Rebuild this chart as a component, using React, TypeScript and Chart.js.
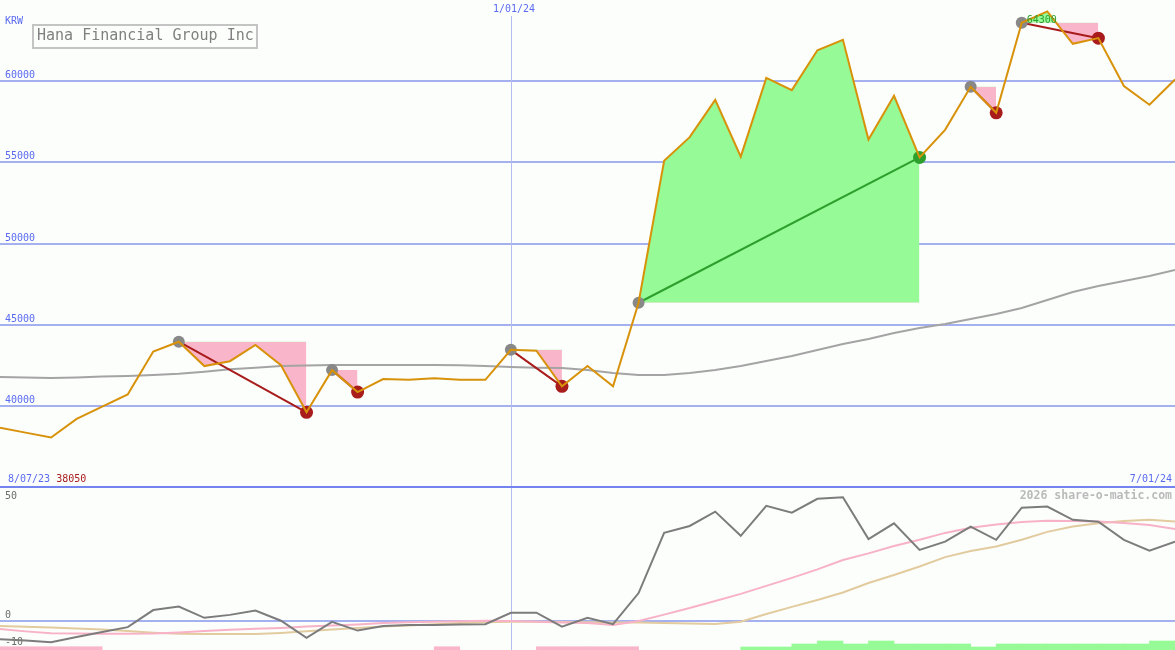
import React, { useEffect, useRef } from "react";
import { Chart, registerables } from "chart.js";

Chart.register(...registerables);

// ---------- text ----------
const companyName = "Hana Financial Group Inc";
const currencyLabel = "KRW";
const startDateLabel = "8/07/23";
const endDateLabel = "7/01/24";
const yearMarkLabel = "1/01/24";
const yearMarkIndex = 20;
const lowPriceLabel = "38050";
const highPriceLabel = "64300";
const watermark = "2026 share-o-matic.com";

// ---------- ticks ----------
const priceTicks = [40000, 45000, 50000, 55000, 60000];
const oscTicks = [50, 0, -10];

// ---------- weekly series (8/14/23 .. 7/01/24) ----------
const price = [
  38650, 38350, 38050, 39200, 39950, 40700, 43350, 43950, 42450, 42750,
  43750, 42500, 39600, 42200, 40850, 41650, 41600, 41700, 41600, 41600,
  43450, 43400, 41200, 42450, 41200, 46350, 55100, 56550, 58850, 55350,
  60200, 59450, 61900, 62550, 56400, 59100, 55300, 57000, 59650, 58050,
  63600, 64300, 62300, 62650, 59700, 58550, 60100,
];

const movingAvg = [
  41780, 41750, 41720, 41750, 41800, 41840, 41900, 41980, 42100, 42250,
  42350, 42450, 42480, 42520, 42520, 42520, 42520, 42520, 42500, 42450,
  42390, 42350, 42330, 42210, 42020, 41900, 41900, 42020, 42210, 42455,
  42760, 43070, 43440, 43810, 44120, 44490, 44800, 45040, 45350, 45660,
  46030, 46520, 47010, 47380, 47690, 48000, 48370,
];

const oscMain = [
  -6.9, -7.3, -8.0, -6.0, -4.1, -2.3, 4.1, 5.4, 1.2, 2.3,
  3.9, 0.1, -6.3, -0.3, -3.6, -1.9, -1.5, -1.5, -1.3, -1.2,
  3.1, 3.1, -2.1, 1.2, -1.2, 10.5, 33.1, 35.7, 41.1, 32.0,
  43.3, 40.7, 45.9, 46.5, 30.8, 36.7, 26.7, 29.8, 35.5, 30.5,
  42.6, 43.0, 38.0, 37.3, 30.5, 26.4, 29.8,
];

const oscFast = [
  -3.0, -3.9, -4.6, -4.7, -4.8, -4.8, -4.7, -4.3, -3.8, -3.3,
  -2.9, -2.6, -2.1, -1.7, -1.3, -0.8, -0.5, -0.3, -0.1, 0.1,
  0.0, -0.3, -0.6, -0.8, -1.5, 0.0, 2.4, 4.9, 7.5, 10.2,
  13.2, 16.2, 19.4, 22.9, 25.4, 28.2, 30.5, 33.1, 35.0, 36.3,
  37.2, 37.7, 37.6, 37.4, 36.8, 36.1, 34.6,
];

const oscSlow = [
  -1.9, -2.2, -2.4, -2.8, -3.2, -3.8, -4.4, -4.8, -4.9, -4.9,
  -4.9, -4.5, -3.9, -3.2, -2.6, -2.1, -1.7, -1.2, -0.8, -0.5,
  -0.3, -0.3, -0.4, -0.5, -0.6, -0.6, -0.8, -0.9, -1.1, -0.3,
  2.6, 5.3, 7.9, 10.7, 14.3, 17.3, 20.5, 24.0, 26.3, 28.0,
  30.5, 33.5, 35.5, 36.7, 37.6, 38.0, 37.4,
];

// one entry per week interval: negative = sell signal, positive = buy strength
const signalBars = [
  -1, -1, -1, -1, 0, 0, 0, 0, 0, 0,
  0, 0, 0, 0, 0, 0, 0, -1, 0, 0,
  0, -1, -1, -1, -1, 0, 0, 0, 0, 1,
  1, 2, 3, 2, 3, 2, 2, 2, 1, 2,
  2, 2, 2, 2, 2, 3,
];

// swing markers (week indexes)
const swingStarts = [7, 13, 20, 25, 38, 40];
const swingEnds = [12, 14, 22, 36, 39, 43];

// ---------- style ----------
const W = 1175;
const TOP_H = 489;
const BOT_H = 161;
const BG = "rgb(252,254,252)";
const GRID = "#a4b0f0";
const VLINE = "#b4bcf2";
const LABEL_BLUE = "#5a6bf0";
const DARK_RED = "#a81c1c";
const GREEN_DOT = "#2c9f2c";
const GRAY_DOT = "#888888";
const PINK_FILL = "rgb(249,182,202)";
const GREEN_FILL = "rgb(150,250,150)";
const PRICE_COLOR = "#d8920a";
const MA_COLOR = "#a4a4a4";
const MONO = '"DejaVu Sans Mono", monospace';

const pts = (arr: number[]) => arr.map((v, i) => ({ x: i, y: v }));

export default function App() {
  const topRef = useRef<HTMLCanvasElement>(null);
  const botRef = useRef<HTMLCanvasElement>(null);

  useEffect(() => {
    const lastIdx = price.length - 1;

    const swingFills = swingStarts.map((s, n) => {
      const e = swingEnds[n];
      const data = [];
      for (let i = s; i <= e; i++) data.push({ x: i, y: price[i] });
      return {
        type: "line",
        data,
        borderWidth: 0,
        borderColor: "transparent",
        pointRadius: 0,
        fill: { target: { value: price[s] }, above: GREEN_FILL, below: PINK_FILL },
        order: 10,
      };
    });

    const swingLines = swingStarts.map((s, n) => {
      const e = swingEnds[n];
      const up = price[e] > price[s];
      return {
        type: "line",
        data: [
          { x: s, y: price[s] },
          { x: e, y: price[e] },
        ],
        borderColor: up ? GREEN_DOT : DARK_RED,
        borderWidth: 2,
        pointRadius: [6, 6.5],
        pointBorderWidth: 0,
        pointBackgroundColor: [GRAY_DOT, up ? GREEN_DOT : DARK_RED],
        fill: false,
        order: 5,
      };
    });

    const topPlugin = {
      id: "topDecor",
      beforeDraw(chart: any) {
        const { ctx } = chart;
        ctx.save();
        ctx.fillStyle = BG;
        ctx.fillRect(0, 0, chart.width, chart.height);
        ctx.restore();
      },
      beforeDatasetsDraw(chart: any) {
        const { ctx } = chart;
        const x = chart.scales.x;
        const y = chart.scales.y;
        ctx.save();
        ctx.strokeStyle = GRID;
        ctx.lineWidth = 2;
        priceTicks.forEach((v) => {
          const py = Math.round(y.getPixelForValue(v));
          ctx.beginPath();
          ctx.moveTo(0, py);
          ctx.lineTo(chart.width, py);
          ctx.stroke();
        });
        const vx = Math.round(x.getPixelForValue(yearMarkIndex)) + 0.5;
        ctx.strokeStyle = VLINE;
        ctx.lineWidth = 1;
        ctx.beginPath();
        ctx.moveTo(vx, 16);
        ctx.lineTo(vx, chart.height);
        ctx.stroke();
        ctx.restore();
      },
      afterDatasetsDraw(chart: any) {
        const { ctx } = chart;
        const x = chart.scales.x;
        const y = chart.scales.y;
        ctx.save();
        ctx.font = `10px ${MONO}`;
        ctx.textBaseline = "middle";
        ctx.fillStyle = LABEL_BLUE;
        ctx.textAlign = "left";
        priceTicks.forEach((v) => {
          const py = Math.round(y.getPixelForValue(v));
          ctx.fillText(String(v), 5, py - 6);
        });
        ctx.fillText(currencyLabel, 5, 21);
        // year mark label
        const vx = Math.round(x.getPixelForValue(yearMarkIndex));
        ctx.textAlign = "center";
        ctx.fillText(yearMarkLabel, vx + 3, 9);
        // range labels
        ctx.textAlign = "left";
        ctx.fillText(startDateLabel, 8, 479);
        const w1 = ctx.measureText(startDateLabel + " ").width;
        ctx.fillStyle = DARK_RED;
        ctx.fillText(lowPriceLabel, 8 + w1, 479);
        ctx.fillStyle = LABEL_BLUE;
        ctx.textAlign = "right";
        ctx.fillText(endDateLabel, 1172, 479);
        // high label
        ctx.textAlign = "left";
        ctx.fillStyle = GREEN_DOT;
        const hx = x.getPixelForValue(swingStarts[5]);
        const hy = y.getPixelForValue(price[swingStarts[5]]);
        ctx.fillText(highPriceLabel, hx + 5, hy - 2);
        // title box
        ctx.fillStyle = BG;
        ctx.fillRect(33, 25, 224, 23);
        ctx.strokeStyle = "#c4c4c4";
        ctx.lineWidth = 2;
        ctx.strokeRect(33, 25, 224, 23);
        ctx.fillStyle = "#808080";
        ctx.font = `15px ${MONO}`;
        ctx.fillText(companyName, 37, 36.5);
        // separator
        ctx.fillStyle = "#7383f0";
        ctx.fillRect(0, 486, chart.width, 2);
        ctx.restore();
      },
    };

    const top = new Chart(topRef.current as HTMLCanvasElement, {
      type: "line",
      data: {
        datasets: [
          {
            data: pts(price),
            borderColor: PRICE_COLOR,
            borderWidth: 2,
            pointRadius: 0,
            fill: false,
            order: 0,
          },
          ...swingLines,
          {
            data: pts(movingAvg),
            borderColor: MA_COLOR,
            borderWidth: 2,
            pointRadius: 0,
            fill: false,
            order: 8,
          },
          ...swingFills,
        ] as any,
      },
      options: {
        animation: false,
        responsive: false,
        events: [],
        layout: { autoPadding: false, padding: { left: 0, right: 0, top: 0, bottom: 2 } },
        elements: { line: { tension: 0 } },
        plugins: {
          legend: { display: false },
          tooltip: { enabled: false },
          filler: { propagate: false },
        },
        scales: {
          x: { type: "linear", min: 0, max: lastIdx, display: false, offset: false },
          y: { type: "linear", min: 35000, max: 65000, display: false },
        },
      } as any,
      plugins: [topPlugin],
    });

    const botPlugin = {
      id: "botDecor",
      beforeDraw(chart: any) {
        const { ctx } = chart;
        ctx.save();
        ctx.fillStyle = BG;
        ctx.fillRect(0, 0, chart.width, chart.height);
        ctx.restore();
      },
      beforeDatasetsDraw(chart: any) {
        const { ctx } = chart;
        const x = chart.scales.x;
        const y = chart.scales.y;
        ctx.save();
        const vx = Math.round(x.getPixelForValue(yearMarkIndex)) + 0.5;
        ctx.strokeStyle = VLINE;
        ctx.lineWidth = 1;
        ctx.beginPath();
        ctx.moveTo(vx, 0);
        ctx.lineTo(vx, chart.height);
        ctx.stroke();
        const zy = Math.round(y.getPixelForValue(0));
        ctx.strokeStyle = GRID;
        ctx.lineWidth = 2;
        ctx.beginPath();
        ctx.moveTo(0, zy);
        ctx.lineTo(chart.width, zy);
        ctx.stroke();
        ctx.font = `10px ${MONO}`;
        ctx.textBaseline = "middle";
        ctx.textAlign = "left";
        ctx.fillStyle = "#6c6c6c";
        oscTicks.forEach((v) => {
          const py = Math.round(y.getPixelForValue(v));
          ctx.fillText(String(v), 5, Math.max(py - 6, 7));
        });
        ctx.font = `bold 11.5px ${MONO}`;
        ctx.fillStyle = "#bababa";
        ctx.textAlign = "right";
        ctx.fillText(watermark, 1172, 7);
        ctx.restore();
      },
    };

    const barData = signalBars
      .map((v, i) => ({ x: i + 0.5, y: [0, v < 0 ? 1.1 : v], v }))
      .filter((d) => d.v !== 0);

    const bot = new Chart(botRef.current as HTMLCanvasElement, {
      type: "line",
      data: {
        datasets: [
          {
            data: pts(oscMain),
            borderColor: "#7c7c7c",
            borderWidth: 2,
            pointRadius: 0,
            fill: false,
            order: 0,
          },
          {
            data: pts(oscFast),
            borderColor: "#f8b2c8",
            borderWidth: 2,
            pointRadius: 0,
            fill: false,
            order: 1,
          },
          {
            data: pts(oscSlow),
            borderColor: "#e2cb9e",
            borderWidth: 2,
            pointRadius: 0,
            fill: false,
            order: 2,
          },
          {
            type: "bar",
            data: barData,
            yAxisID: "yb",
            backgroundColor: (c: any) => (c.raw && c.raw.v < 0 ? PINK_FILL : GREEN_FILL),
            borderWidth: 0,
            barPercentage: 1,
            categoryPercentage: 1,
            grouped: false,
            order: 3,
          },
        ] as any,
      },
      options: {
        animation: false,
        responsive: false,
        events: [],
        layout: { autoPadding: false, padding: 0 },
        elements: { line: { tension: 0 } },
        plugins: {
          legend: { display: false },
          tooltip: { enabled: false },
        },
        scales: {
          x: { type: "linear", min: 0, max: lastIdx, display: false, offset: false, grid: { offset: false } },
          y: { type: "linear", min: -10.9, max: 49.6, display: false },
          yb: { type: "linear", min: 0, max: BOT_H / 3, display: false },
        },
      } as any,
      plugins: [botPlugin],
    });

    return () => {
      top.destroy();
      bot.destroy();
    };
  }, []);

  return (
    <div style={{ position: "absolute", left: 0, top: 0, width: W, height: 650, background: BG }}>
      <canvas
        ref={topRef}
        width={W}
        height={TOP_H}
        style={{ position: "absolute", left: 0, top: 0, width: W, height: TOP_H }}
      />
      <canvas
        ref={botRef}
        width={W}
        height={BOT_H}
        style={{ position: "absolute", left: 0, top: TOP_H, width: W, height: BOT_H }}
      />
    </div>
  );
}
